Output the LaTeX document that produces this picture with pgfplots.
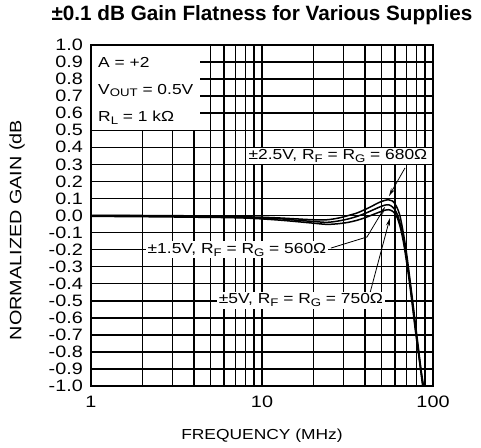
\documentclass[border=0pt]{standalone}
\usepackage{fontspec}
\setmainfont{Liberation Sans}
\newfontfamily\wf{Liberation Sans}[FakeStretch=1.2]
\usepackage{pgfplots}
\pgfplotsset{compat=1.18}
\usetikzlibrary{arrows.meta}
\newcommand\tf{\wf\fontsize{16.5}{19}\selectfont}
\newcommand\lf{\wf\fontsize{14.5}{17}\selectfont}
\newcommand\sub[1]{\raisebox{-0.35ex}{\fontsize{11}{12}\selectfont #1}}
\pgfplotstableread{
x y
1 0
2 0
4 -0.002
6 -0.005
8 -0.008
10 -0.01
13 -0.015
16 -0.02
20 -0.025
24 -0.025
28 -0.015
32 0.0
36 0.015
40 0.035
44 0.055
48 0.075
52 0.088
55 0.092
58 0.085
61 0.055
64 0.0
67 -0.1
70 -0.22
73 -0.36
76 -0.5
79 -0.64
82 -0.77
85 -0.9
88 -1.0
}\curveA
\pgfplotstableread{
x y
1 0
2 -0.002
4 -0.005
6 -0.008
8 -0.012
10 -0.015
13 -0.02
16 -0.028
20 -0.035
24 -0.04
28 -0.032
32 -0.02
36 -0.005
40 0.012
44 0.03
48 0.047
52 0.06
55 0.063
58 0.05
61 0.02
64 -0.04
67 -0.13
70 -0.25
73 -0.38
76 -0.52
79 -0.66
82 -0.79
85 -0.91
87.5 -1.0
}\curveB
\pgfplotstableread{
x y
1 -0.005
2 -0.007
4 -0.01
6 -0.012
8 -0.015
10 -0.02
13 -0.028
16 -0.036
20 -0.045
24 -0.052
28 -0.048
32 -0.04
36 -0.028
40 -0.013
44 0.003
48 0.018
52 0.03
55 0.034
58 0.025
61 0.0
64 -0.06
67 -0.15
70 -0.27
73 -0.4
76 -0.54
79 -0.68
82 -0.8
85 -0.92
87 -1.0
}\curveC
\begin{document}
\begin{tikzpicture}
\begin{axis}[
  scale only axis,
  width=342pt, height=341pt,
  xmode=log,
  xmin=1, xmax=100, ymin=-1, ymax=1,
  xtick={1,10,100}, xticklabels={1,10,100},
  ytick={-1,-0.9,-0.8,-0.7,-0.6,-0.5,-0.4,-0.3,-0.2,-0.1,0,0.1,0.2,0.3,0.4,0.5,0.6,0.7,0.8,0.9,1},
  yticklabels={-1.0,-0.9,-0.8,-0.7,-0.6,-0.5,-0.4,-0.3,-0.2,-0.1,0.0,0.1,0.2,0.3,0.4,0.5,0.6,0.7,0.8,0.9,1.0},
  grid=both,
  major grid style={black, line width=1.5pt},
  minor grid style={black, line width=1.5pt},
  tick style={draw=none},
  axis line style={black, line width=1.5pt},
  xticklabel style={font=\tf, anchor=base, yshift=-21pt},
  yticklabel style={font=\tf, anchor=east, inner sep=0pt, xshift=-8pt},
  title={±0.1 dB Gain Flatness for Various Supplies},
  title style={font=\fontsize{20.7}{24}\selectfont\bfseries, at={(rel axis cs:0.5,1)}, anchor=base, yshift=18pt},
  xlabel={FREQUENCY (MHz)},
  xlabel style={font=\lf, at={(rel axis cs:0.5,0)}, anchor=base, yshift=-53pt},
]
\addplot[black, line width=1.5pt, smooth] table[x=x,y=y] {\curveA};
\addplot[black, line width=1.5pt, smooth] table[x=x,y=y] {\curveB};
\addplot[black, line width=1.5pt, smooth] table[x=x,y=y] {\curveC};
\coordinate (O) at (rel axis cs:0,0);
% top-left box
\fill[white] (axis cs:1,1) rectangle (axis cs:4.34,0.5);
\node[font=\lf, anchor=base west, inner sep=0pt] at (axis cs:1.099,0.869) {A = +2};
\node[font=\lf, anchor=base west, inner sep=0pt] at (axis cs:1.099,0.711) {V\sub{OUT} = 0.5V};
\node[font=\lf, anchor=base west, inner sep=0pt] at (axis cs:1.099,0.552) {R\sub{L} = 1 kΩ};
% arrows
\draw[black, line width=0.8pt, -{Stealth[length=8pt,width=4pt]}] (axis cs:68.6,0.279) -- (axis cs:55.3,0.114);
\draw[black, line width=0.8pt, -{Stealth[length=8pt,width=4pt]}] (axis cs:25.3,-0.191) -- (axis cs:41.1,-0.126) -- (axis cs:52.4,0.05);
\draw[black, line width=0.8pt, -{Stealth[length=8pt,width=4pt]}] (axis cs:42.8,-0.455) -- (axis cs:56,-0.015);
% labels
\node[font=\lf, fill=white, inner sep=2pt] at (axis cs:27.8,0.349) {±2.5V, R\sub{F} = R\sub{G} = 680Ω};
\node[font=\lf, fill=white, inner sep=2pt] at (axis cs:7.14,-0.202) {±1.5V, R\sub{F} = R\sub{G} = 560Ω};
\node[font=\lf, fill=white, inner sep=2pt] at (axis cs:16.9,-0.496) {±5V, R\sub{F} = R\sub{G} = 750Ω};
\draw[black, line width=1.5pt] (rel axis cs:0,0) rectangle (rel axis cs:1,1);
\end{axis}
\path (O) ++(-74pt,156pt) node[rotate=90, font=\wf\fontsize{16.5}{19}\selectfont, anchor=center] {NORMALIZED GAIN (dB};
\pgfresetboundingbox
\path[use as bounding box] (O) ++(-91pt,-61pt) rectangle ++(481pt,447pt);
\end{tikzpicture}
\end{document}
